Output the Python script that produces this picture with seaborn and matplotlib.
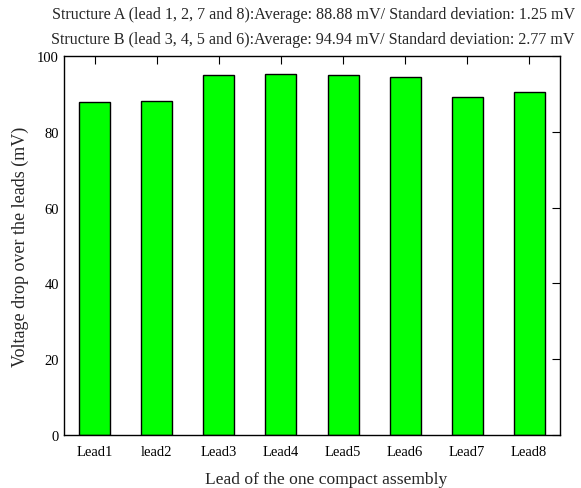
import pandas as pd
import numpy as np
import matplotlib
matplotlib.use("Agg")
import matplotlib.pyplot as plt
import seaborn as sns

# Data
leads = ["Lead1", "lead2", "Lead3", "Lead4", "Lead5", "Lead6", "Lead7", "Lead8"]
voltage = [87.8, 88.0, 95.0, 95.2, 95.0, 94.5, 89.1, 90.5]

title_lines = [
    "Structure A (lead 1, 2, 7 and 8):Average: 88.88 mV/ Standard deviation: 1.25 mV",
    "Structure B (lead 3, 4, 5 and 6):Average: 94.94 mV/ Standard deviation: 2.77 mV",
]

df = pd.DataFrame({"lead": leads, "voltage": voltage})

sns.set_style("white")
plt.rcParams['font.family'] = ['Liberation Serif', 'DejaVu Serif']

fig = plt.figure(figsize=(5.81, 4.89), dpi=100)
ax = fig.add_axes([0.110, 0.1084, 0.854, 0.775])

sns.barplot(data=df, x="lead", y="voltage", color="#00ff00", saturation=1,
            width=0.5, edgecolor="black", linewidth=1.0, ax=ax)

ax.set_xlim(-0.5, 7.5)
ax.set_ylim(0, 100)
ax.set_yticks(np.arange(0, 101, 20))
ax.tick_params(direction="in", length=6, width=0.8, top=True, right=True,
               labelsize=10.5, colors="black")
ax.tick_params(axis="x", pad=7)
for s in ax.spines.values():
    s.set_color("black")
    s.set_linewidth(1.0)

ax.set_xlabel("Lead of the one compact assembly", fontsize=12.6)
ax.xaxis.set_label_coords(0.528, -0.094)
ax.set_ylabel("Voltage drop over the leads (mV)", fontsize=13, labelpad=6)

fig.text(0.540, 0.985, title_lines[0], ha="center", va="top", fontsize=11.6)
fig.text(0.539, 0.935, title_lines[1], ha="center", va="top", fontsize=11.6)

fig.savefig("out.png", dpi=100)
